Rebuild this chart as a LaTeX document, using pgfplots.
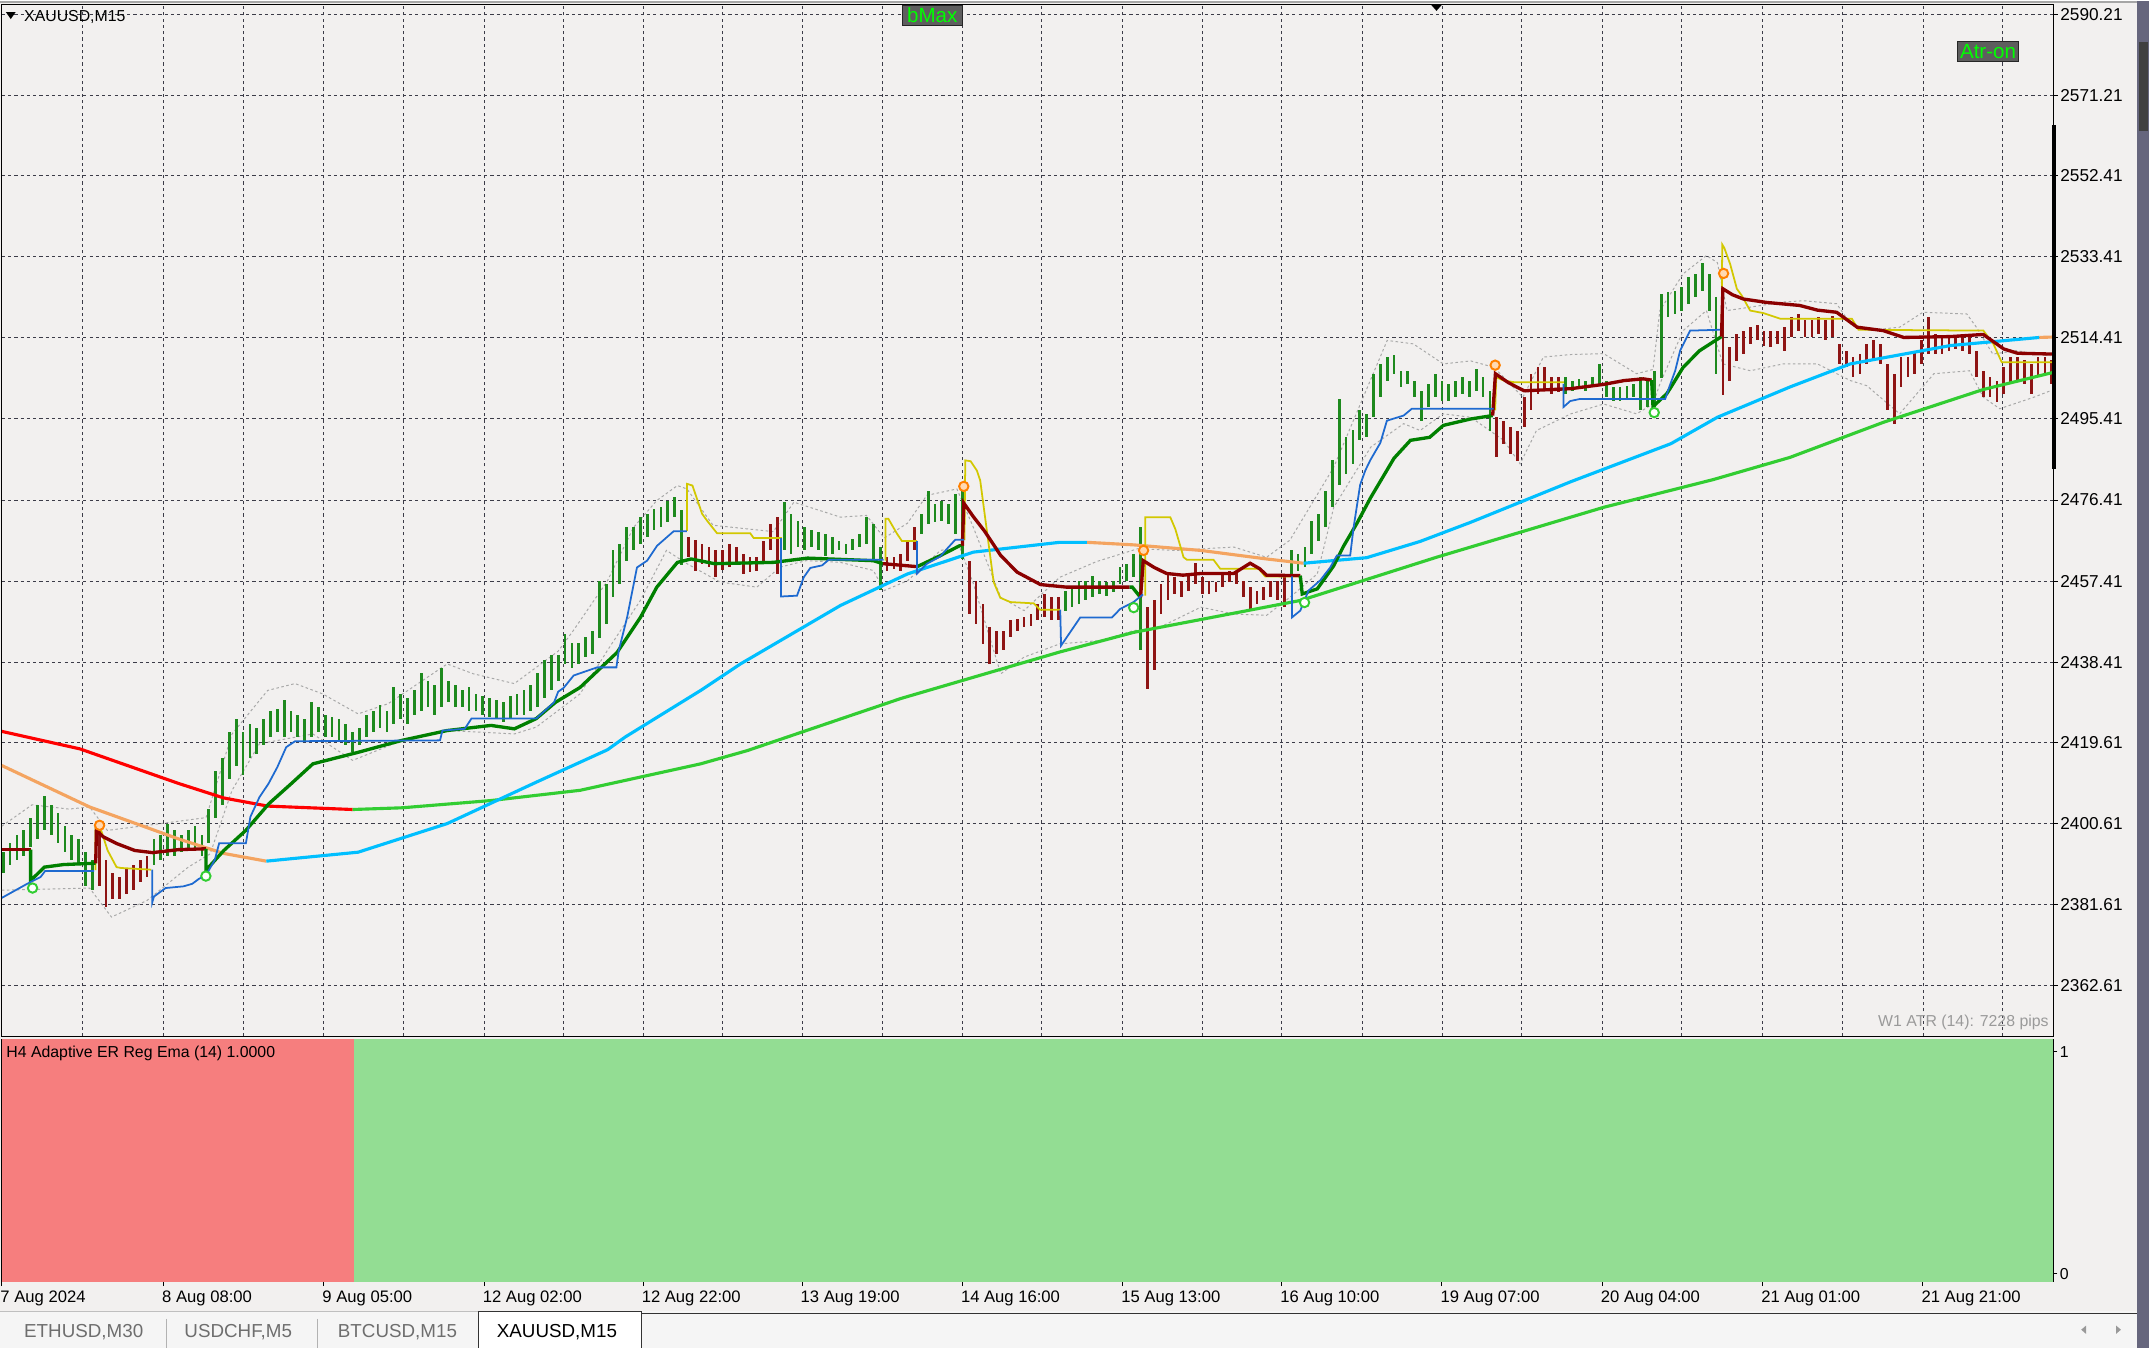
\documentclass[border=0pt]{standalone}
\usepackage{fontspec}
\setmainfont{Liberation Sans}
\usepackage{pgfplots}
\pgfplotsset{compat=1.18}
\usepackage{pgfplotstable}

\definecolor{chartbg}{HTML}{F2F0EF}
\definecolor{gridc}{HTML}{3C3C48}
\definecolor{barup}{HTML}{1E8A1E}
\definecolor{bardn}{HTML}{8E1414}
\definecolor{emaup}{HTML}{008000}
\definecolor{emadn}{HTML}{8B0000}
\definecolor{mared}{HTML}{FF0000}
\definecolor{malime}{HTML}{32CD32}
\definecolor{masand}{HTML}{F4A460}
\definecolor{masky}{HTML}{00BFFF}
\definecolor{stepyel}{HTML}{D2C800}
\definecolor{stepblue}{HTML}{1E6AD0}
\definecolor{bandgray}{HTML}{A8A8A8}
\definecolor{indred}{HTML}{F67E7E}
\definecolor{indgreen}{HTML}{93DD93}
\definecolor{boxgray}{HTML}{5E5E5E}
\definecolor{atrgray}{HTML}{9A9A9A}
\definecolor{tabgray}{HTML}{6E6E6E}
\definecolor{lime}{HTML}{00FF00}

\newcommand\mtfont{\fontsize{8.1}{9.5}\selectfont}
\newcommand\datefont{\fontsize{8.5}{10}\selectfont}
\newcommand\pricefont{\fontsize{8.8}{10}\selectfont}
\newcommand\tabfont{\fontsize{9.6}{11}\selectfont}

% price bars, M15, x = position in chart pixels, lo/hi = price
\pgfplotstableread{
x lo hi
2 2389 2394
7 2391 2396
12 2392 2398
17 2393 2399
22 2395 2402
27 2397 2405
32 2399 2407
37 2398 2405
42 2396 2403
47 2394 2400
52 2392 2398
57 2391 2397
62 2386 2394
67 2385 2392
112 2391 2397
117 2392 2398
122 2393 2400.5
127 2393 2399
132 2394 2398
137 2395 2399
142 2395 2400
147 2393 2398
152 2396 2404
157 2402 2413
162 2405 2416
167 2411 2422
172 2414 2425
177 2412 2422
182 2416 2424
187 2417 2423
192 2419 2425
197 2421 2427
202 2422 2427.5
207 2421 2429.5
212 2422 2427
217 2421 2426
222 2420 2425
227 2421 2429
232 2422 2428
237 2421 2426
242 2421 2425.5
247 2420 2425
252 2419 2424
257 2417.5 2422
262 2419 2423
267 2421 2426
272 2422 2427
277 2423 2428.5
282 2422 2427
287 2424 2432.5
292 2425 2431
297 2424 2430
302 2426 2432
307 2427 2436
312 2428 2434
317 2426 2433
322 2428 2437
327 2429 2434
332 2428 2433
337 2428 2432
342 2427 2432.5
347 2427 2431
352 2426 2430.5
357 2425.5 2430
362 2425 2429.5
367 2424.5 2429
372 2425 2430.5
377 2426 2431
382 2426 2432
387 2427 2433
392 2428 2436
397 2430 2439
402 2432 2440
407 2434 2440
412 2438 2445
417 2437 2443
422 2438 2443
427 2439.6 2444.3
432 2440.4 2445.8
437 2444 2457.5
442 2447.4 2456.8
447 2453.6 2464.6
452 2456.8 2466.1
457 2462.2 2470
462 2464.6 2470
467 2466 2472.4
472 2467.7 2473.2
477 2469.3 2474.3
482 2470 2474.7
487 2471.2 2476.3
492 2472.4 2477.1
497 2461.1 2474
572 2464.6 2475.9
577 2463.8 2473.2
582 2465.4 2471.6
587 2464.6 2470
592 2465.4 2469.3
597 2464.6 2468.9
602 2463.4 2468.5
607 2463.8 2467.7
612 2464.6 2466.9
617 2463.8 2466.1
622 2464.6 2467.3
627 2465.4 2468.5
632 2466.1 2472.4
637 2462.2 2470.8
642 2455.4 2465.4
672 2468.5 2473.2
677 2470.8 2478.6
682 2471.2 2475.5
687 2471.6 2476.3
692 2470.8 2475.5
697 2468.5 2477.9
702 2462.6 2480.2
777 2450.5 2455.2
782 2451.3 2456
787 2452.1 2457.5
792 2452.9 2457.5
797 2453.6 2458.7
802 2454.4 2457.5
807 2454 2457.2
812 2454.8 2457.5
817 2456.8 2460.7
822 2457.5 2461.5
827 2458.3 2463.8
832 2441.2 2470.2
942 2459.1 2464.6
947 2459.9 2463.8
952 2460.7 2465.4
957 2463.8 2471.6
962 2466.9 2473.2
967 2470 2478.6
972 2474.7 2485.7
977 2480 2500
982 2482.5 2491.1
987 2484.9 2492.7
992 2490.4 2497.4
997 2491.1 2496.6
1002 2495.8 2506
1007 2500.5 2508.3
1012 2504.4 2509.9
1017 2506 2510.3
1022 2502.8 2506.7
1027 2503.6 2506.7
1032 2500.5 2504.4
1037 2495 2502
1042 2498.2 2503.6
1047 2500.5 2506
1052 2499.7 2504.4
1057 2499.7 2503.6
1062 2500.5 2504.4
1067 2501.3 2505.2
1072 2500.5 2504.4
1077 2502 2507.1
1082 2500.5 2505.2
1087 2492.7 2502
1142 2501.3 2505.2
1147 2502 2504.4
1152 2502.5 2504.8
1157 2502 2504.4
1162 2502.8 2505.2
1167 2503.6 2508.3
1172 2500.5 2504.4
1177 2499.7 2502.8
1182 2499.7 2502.8
1187 2500.1 2503.2
1192 2500.5 2503.6
1197 2497.4 2505.2
1202 2498.2 2504.4
1207 2498.2 2506.7
1212 2505 2524.7
1217 2519.2 2525.1
1222 2520 2525.5
1227 2520.8 2526.3
1232 2522.4 2528.6
1237 2523.9 2529.4
1242 2525.5 2531.9
1247 2520.8 2529.4
1252 2506 2523.9
}\barsup

\pgfplotstableread{
x lo hi
72 2386 2400
77 2381 2392
82 2383 2389
87 2383 2388
92 2384 2390
97 2385 2391
102 2387 2392
107 2388 2393
502 2463 2467.7
507 2459.9 2467
512 2461.5 2466
517 2460.7 2465.4
522 2458.3 2464.6
527 2459.9 2464.6
532 2460.7 2466.1
537 2461.5 2465.4
542 2459.1 2463.8
547 2459.5 2463
552 2459.9 2463
557 2462.2 2466.9
562 2464.6 2470.8
567 2459.1 2472.4
647 2459.9 2463
652 2460.3 2463
657 2459.9 2463.8
662 2462.2 2466.9
667 2464.6 2470
707 2449.7 2462.2
712 2447.4 2457.5
717 2442.7 2452.1
722 2438 2446.6
727 2440.4 2445.8
732 2441.2 2445.8
737 2444.3 2448.2
742 2445.8 2448.6
747 2446.6 2449
752 2447 2449.7
757 2448.2 2452.1
762 2449 2454.4
767 2448.2 2453.6
772 2448.2 2453.6
837 2432.2 2451.3
842 2436.5 2452.9
847 2449.7 2456.8
852 2452.9 2459.1
857 2454.4 2458.3
862 2453.6 2457.5
867 2455.2 2459.1
872 2456.8 2461.6
877 2454.4 2458.3
882 2454.4 2457.5
887 2454.8 2457.2
892 2456 2459.1
897 2457.2 2459.9
902 2456.8 2459.9
907 2453.6 2457.5
912 2450.9 2456
917 2452.1 2455.2
922 2452.9 2456
927 2453.6 2457.5
932 2452.9 2457.5
937 2451.3 2459.1
1092 2486.4 2495.8
1097 2489.6 2495
1102 2487.2 2493.5
1107 2485.5 2492.7
1112 2493.5 2500.5
1117 2497.4 2506
1122 2501.3 2507.5
1127 2502 2507.7
1132 2501.3 2505.2
1137 2501.7 2505.2
1257 2500.9 2525.5
1262 2504.4 2512.2
1267 2509.1 2515.3
1272 2510.6 2516.1
1277 2513 2516.9
1282 2513.8 2517.3
1287 2512.6 2516.1
1292 2512.2 2516.1
1297 2513 2516.1
1302 2511.4 2516.9
1307 2514.5 2519.2
1312 2516.1 2520
1317 2514.5 2518.5
1322 2514.5 2518.5
1327 2515.3 2519.2
1332 2513.8 2518.5
1337 2514.5 2519.6
1342 2508.3 2513
1347 2507.5 2511.4
1352 2505.2 2509.9
1357 2505.9 2510.6
1362 2508.3 2513
1367 2509.1 2513.8
1372 2508.3 2513
1377 2497.4 2508.3
1382 2494.2 2506
1387 2502.8 2509.9
1392 2505.2 2509.9
1397 2506 2511.4
1402 2508.3 2513.8
1407 2510.6 2519.2
1412 2510.6 2515.3
1417 2510.6 2514.5
1422 2511.4 2514.5
1427 2511.8 2514.5
1432 2511.4 2514.5
1437 2510.6 2514.5
1442 2505.2 2511.4
1447 2500.5 2506.7
1452 2500.5 2505.2
1457 2499.3 2504.4
1462 2501.3 2507.5
1467 2503.6 2509.9
1472 2504.4 2509.9
1477 2503.6 2509.1
1482 2501.3 2508.3
1487 2505.2 2509.9
1492 2505.9 2509.9
1497 2503.6 2509.1
}\barsdn

\begin{document}
\begin{tikzpicture}
% window
\begin{scope}[x=0.7pt,y=-0.7pt]
  \fill[chartbg] (0,0) rectangle (1568,983);
\end{scope}

% ---------- main price panel ----------
\begin{axis}[
  at={(0.7pt,-529.2pt)}, anchor=south west,
  scale only axis, width=1047.9pt, height=527.1pt,
  xmin=1, xmax=1498, ymin=2350.72, ymax=2592.46,
  axis background/.style={fill=chartbg},
  axis line style={black, line width=0.6pt},
  xtick={60,119,177,236,294,353,411,469,527,585,644,702,760,819,877,935,994,1052,1110,1169,1227,1286,1344,1403,1461},
  xticklabels={}, xtick style={draw=none},
  ytick={2362.61,2381.61,2400.61,2419.61,2438.41,2457.41,2476.41,2495.41,2514.41,2533.41,2552.41,2571.21,2590.21},
  yticklabels={2362.61,2381.61,2400.61,2419.61,2438.41,2457.41,2476.41,2495.41,2514.41,2533.41,2552.41,2571.21,2590.21},
  ytick pos=right, tick align=outside, major tick length=2.4pt,
  ytick style={black, line width=0.5pt},
  yticklabel style={font=\pricefont, anchor=west, inner sep=0pt, xshift=1.1pt},
  grid=major,
  major grid style={draw=gridc, line width=0.45pt, dash pattern=on 1.6pt off 1.6pt},
]
% envelope bands
\addplot [draw=bandgray, line width=0.5pt, dash pattern=on 1.3pt off 1.3pt] coordinates {
(1,2400) (23,2405) (50,2404) (65,2404.5) (78,2399) (117,2400.6) (150,2402) (169,2421.6) (195,2431.8) (215,2433.4) (235,2431) (261,2426.3) (283,2428.7) (326,2438) (345,2435.7) (375,2433.4) (407,2441) (418,2445.8) (443,2457.5) (462,2470) (479,2476.3) (494,2479.8) (501,2479) (520,2470.5) (564,2469) (579,2475.9) (613,2472.4) (632,2472.8) (645,2467.5) (662,2471) (676,2477.5) (698,2479) (710,2470) (730,2453.6) (747,2450.5) (773,2458.3) (800,2462) (830,2465) (858,2464.6) (900,2465.4) (924,2463) (941,2467) (973,2484.1) (1012,2513.8) (1031,2513) (1053,2508.3) (1073,2509) (1090,2507.5) (1111,2500.5) (1126,2509.9) (1146,2510.5) (1170,2510.7) (1194,2506) (1206,2507) (1211,2520.8) (1228,2529.4) (1245,2533.7) (1253,2532) (1260,2520.8) (1277,2521.6) (1301,2522.8) (1316,2523.1) (1340,2522.4) (1350,2517.7) (1362,2516.1) (1386,2516.9) (1403,2520.4) (1435,2520) (1442,2516.9) (1454,2510.6) (1471,2511.4) (1496,2510.2)};
\addplot [draw=bandgray, line width=0.5pt, dash pattern=on 1.3pt off 1.3pt] coordinates {
(1,2385) (65,2385.5) (81,2378.7) (107,2382.6) (137,2390.4) (153,2393.5) (169,2408.4) (189,2419.3) (228,2421.6) (257,2415.4) (287,2419.3) (326,2422.4) (375,2421.6) (391,2423.2) (423,2431) (443,2441.2) (467,2452.9) (486,2464.6) (501,2461.5) (525,2457.2) (552,2456) (569,2460.7) (588,2462.2) (613,2461.8) (637,2459.9) (645,2455.2) (662,2457.5) (686,2464.6) (700,2465.4) (710,2456.8) (730,2435.7) (747,2439.6) (773,2442.7) (803,2443.5) (827,2445.8) (846,2446.6) (876,2451.3) (900,2449.7) (924,2449.4) (941,2453.6) (961,2459.1) (973,2474.7) (1000,2488.8) (1024,2494.3) (1036,2492.7) (1053,2496.6) (1073,2495.8) (1097,2490.4) (1109,2484.9) (1121,2492.7) (1146,2496.6) (1170,2498.9) (1194,2496.6) (1206,2498.9) (1211,2503.6) (1228,2516.1) (1245,2520.8) (1257,2508.3) (1277,2506.7) (1301,2508.3) (1326,2508.3) (1350,2504.4) (1362,2503.2) (1386,2496.6) (1411,2506) (1437,2506.7) (1447,2500.5) (1459,2497.8) (1484,2500.5) (1496,2502)};

% price bars
\addplot [draw=none, mark=none, error bars/.cd, y dir=both, y explicit, error mark=none,
  error bar style={draw=barup, line width=1.4pt}]
  table [x=x, y expr=(\thisrow{lo}+\thisrow{hi})/2, y error expr=(\thisrow{hi}-\thisrow{lo})/2] {\barsup};
\addplot [draw=none, mark=none, error bars/.cd, y dir=both, y explicit, error mark=none,
  error bar style={draw=bardn, line width=1.4pt}]
  table [x=x, y expr=(\thisrow{lo}+\thisrow{hi})/2, y error expr=(\thisrow{hi}-\thisrow{lo})/2] {\barsdn};

% slow average: red while falling, lime while rising
\addplot [mared, line width=1.6pt] coordinates {(1,2422.2) (58,2418.1) (130,2410.0) (163,2406.6) (195,2404.7) (257,2403.9)};
\addplot [malime, line width=1.6pt] coordinates {(257,2403.9) (293,2404.3) (358,2406.0) (423,2408.4) (511,2414.6) (545,2417.7) (657,2429.9) (773,2440.8) (827,2445.4) (949,2452.9) (1048,2463.0) (1170,2474.7) (1250,2481.2) (1306,2486.4) (1374,2494.6) (1447,2502.3) (1498,2506.3)};

% medium average: sandy while falling, sky blue while rising
\addplot [masand, line width=1.6pt] coordinates {(1,2414.2) (65,2404.5) (130,2397.0) (163,2393.6) (194,2391.8)};
\addplot [masky, line width=1.6pt] coordinates {(194,2391.8) (261,2393.9) (326,2400.6) (391,2410.3) (443,2417.9) (456,2420.9) (511,2431.8) (540,2438.0) (613,2451.7) (662,2459.1) (710,2464.2) (773,2466.5) (793,2466.5)};
\addplot [masand, line width=1.6pt] coordinates {(793,2466.5) (827,2465.9) (876,2464.6) (924,2462.6) (951,2461.6)};
\addplot [masky, line width=1.6pt] coordinates {(951,2461.6) (997,2462.9) (1036,2466.7) (1073,2471.2) (1146,2480.7) (1219,2489.6) (1253,2495.8) (1306,2502.9) (1350,2508.3) (1423,2512.6) (1488,2514.5)};
\addplot [masand, line width=1.6pt] coordinates {(1488,2514.5) (1498,2514.6)};

% yellow trailing line
\addplot [stepyel, line width=0.9pt] coordinates {(69.4,2389.7) (69.4,2399.8) (72,2400.5) (78.2,2394.3) (84.7,2390.4) (88,2390.2) (110,2389.8)};
\addplot [stepyel, line width=0.9pt] coordinates {(501,2469.2) (501,2480.2) (505,2479.8) (512,2473.2) (515.6,2471.6) (520.5,2469.6) (523,2468.6) (547.2,2468.6) (549.7,2467.5) (570.3,2467.5)};
\addplot [stepyel, line width=0.9pt] coordinates {(645.8,2462.2) (645.8,2472) (648,2472) (654.3,2468.5) (657.9,2466.8) (668.9,2466.8)};
\addplot [stepyel, line width=0.9pt] coordinates {(703.5,2467) (704.1,2485.7) (708,2485.5) (712.6,2483.3) (715,2481) (724.8,2457.2) (729.7,2453.5) (737,2452.5) (754,2452.2) (758.8,2450.7) (773.4,2450.7)};
\addplot [stepyel, line width=0.9pt] coordinates {(835.5,2454) (835.5,2472.4) (853.7,2472.4) (857.4,2469.6) (863.4,2463) (865.9,2462.4) (885.3,2462.4) (890.2,2460.3) (918.2,2460.3) (923,2458.5) (948.6,2458.5)};
\addplot [stepyel, line width=0.9pt] coordinates {(1090.8,2497.4) (1091.6,2505.2) (1097,2504.4) (1105,2504) (1141,2504)};
\addplot [stepyel, line width=0.9pt] coordinates {(1256.2,2516.1) (1256.5,2536.3) (1258,2535.5) (1262.3,2531.7) (1267.2,2525.9) (1270.8,2524.3) (1276.9,2520.8) (1286.6,2520.2) (1298.8,2518.9) (1351.1,2518.9) (1356,2516.3) (1447.1,2516.1) (1454.4,2513) (1460.5,2508.7) (1498,2508.7)};

% adaptive ER EMA
\addplot [emadn, line width=1.7pt] coordinates {(1,2394.5) (22,2394.5)};
\addplot [emaup, line width=1.7pt] coordinates {(22,2394.5) (22,2387.3) (26,2388.5) (32,2390.4) (46,2391) (68,2391.3) (69.5,2391.3)};
\addplot [emadn, line width=1.7pt] coordinates {(69.5,2391.3) (70,2399.0) (75,2397.5) (85,2395.9) (98,2394.3) (111,2393.8) (130,2394.5) (150,2394.7)};
\addplot [emaup, line width=1.7pt] coordinates {(150,2394.7) (150,2389.7) (163,2394.3) (179,2399.0) (196,2405.3) (212,2409.9) (228,2414.6) (261,2417.3) (293,2420.1) (326,2422.4) (358,2423.6) (375,2422.8) (391,2425.2) (405,2429) (423,2432.5) (450,2440.7) (467,2448.9) (479,2456.0) (494,2461.8) (504,2462.6) (521,2461.5) (564,2461.8) (589,2462.8) (637,2462.2) (644,2461.5)};
\addplot [emadn, line width=1.7pt] coordinates {(644,2461.5) (669,2460.8)};
\addplot [emaup, line width=1.7pt] coordinates {(669,2460.8) (686,2463.4) (700,2465.7) (702,2465.7)};
\addplot [emadn, line width=1.7pt] coordinates {(702,2465.7) (703,2475.7) (710,2472.5) (718,2469.2) (730,2463.4) (742,2459.5) (759,2456.6) (778,2456.0) (824,2456.0)};
\addplot [emaup, line width=1.7pt] coordinates {(824,2456.0) (826,2456.0) (832,2453.6)};
\addplot [emadn, line width=1.7pt] coordinates {(832,2453.6) (834,2462.2) (842,2460.6) (851,2459.2) (863,2458.8) (876,2459.2) (900,2459.2) (912,2461.6) (919,2460.3) (924,2458.8) (948.6,2458.7)};
\addplot [emaup, line width=1.7pt] coordinates {(948.6,2458.7) (950,2454.4) (961,2455.6) (973,2461) (980,2465.5) (990,2471) (1000,2477) (1017,2486.2) (1029,2490.4) (1043,2491.1) (1053,2493.9) (1073,2495.4) (1089,2496.2)};
\addplot [emadn, line width=1.7pt] coordinates {(1089,2496.2) (1091,2506.0) (1100,2504) (1107,2502.8) (1112,2502.0) (1146,2502.5) (1170,2503.5) (1185,2504.4) (1199,2504.8) (1205,2504.5)};
\addplot [emaup, line width=1.7pt] coordinates {(1205,2504.5) (1206,2498.3) (1216,2501.3) (1219,2502.8) (1228,2507.5) (1240,2511.4) (1256,2514.7)};
\addplot [emadn, line width=1.7pt] coordinates {(1256,2514.7) (1257,2525.9) (1264,2524.5) (1272,2523.5) (1289,2522.7) (1313,2522.0) (1326,2520.9) (1340,2520.4) (1355,2516.9) (1374,2516.1) (1389,2514.5) (1423,2514.7) (1447,2515.2) (1462,2511.8) (1472,2510.8) (1498,2510.6)};

% blue trailing stop
\addplot [stepblue, line width=0.9pt] coordinates {(1,2383.2) (19.5,2386.5) (29.3,2388.1) (32.6,2389.5) (68.4,2389.5)};
\addplot [stepblue, line width=0.9pt] coordinates {(110.8,2389.8) (110.8,2382.2) (112,2383.5) (120.5,2385.5) (133.6,2385.9) (140,2386.5) (145,2387.7) (150,2388.5) (156.4,2392.1) (159.6,2396) (179.1,2396) (182.4,2402.2) (189,2406.8) (195.5,2409.9) (202,2413.8) (208.5,2418.5) (215,2419.9) (320.8,2420.1) (322.5,2422.4) (338.8,2422.8) (343.7,2425.2) (390.9,2425.2) (404,2429) (407,2431.5) (411,2432.4) (418.3,2435.3) (435.4,2437.2) (449.5,2437.2) (451.2,2441.1) (457.3,2448.9) (464.5,2460.6) (471.9,2462.2) (479.2,2465.7) (491.3,2469.1) (501,2469.1)};
\addplot [stepblue, line width=0.9pt] coordinates {(569.6,2467.5) (569.6,2453.8) (581.3,2454) (586.2,2458.3) (591,2460.5) (599.6,2461.1) (604.4,2462.4) (644.5,2462.4)};
\addplot [stepblue, line width=0.9pt] coordinates {(668.9,2466.8) (668.9,2459.2) (676.2,2461.5) (685.9,2463.2) (690.8,2465.0) (696.8,2467.1) (703,2467.1)};
\addplot [stepblue, line width=0.9pt] coordinates {(773.4,2450.7) (774,2442.3) (788,2448.9) (811.2,2448.9) (817.2,2450.9) (826.9,2452.5) (833.8,2454.3)};
\addplot [stepblue, line width=0.9pt] coordinates {(942.5,2458.5) (942.5,2448.9) (948.6,2450.5) (954.6,2455.2) (963.2,2457.6) (970.4,2460.6) (975.3,2463.4) (985,2463.4) (987.5,2470) (992.3,2480) (996,2483.3) (999.6,2485.7) (1007,2489.8) (1011.8,2495) (1024,2496.2) (1030,2497.8) (1089.6,2497.8)};
\addplot [stepblue, line width=0.9pt] coordinates {(1140.7,2503.6) (1140.7,2498.2) (1145.6,2499.6) (1152.9,2500.1) (1214.9,2500.1) (1218,2503) (1222.2,2506.7) (1225.8,2511.4) (1228.3,2513) (1233.1,2516.1) (1255,2516.3)};

% signal markers
\addplot [only marks, mark=*, mark size=2.4pt, mark options={draw=orange, fill=orange!30!white, line width=1pt}]
  coordinates {(72.3,2400.2) (703,2479.6) (834.2,2464.6) (1090.8,2508.0) (1257.5,2529.5)};
\addplot [only marks, mark=*, mark size=2.4pt, mark options={draw=malime, fill=white, line width=1pt}]
  coordinates {(23.4,2385.5) (149.9,2388.3) (827,2451.2) (951.7,2452.4) (1206.9,2496.9)};
\end{axis}

% ---------- indicator panel ----------
\begin{axis}[
  at={(0.7pt,-654.5pt)}, anchor=south west,
  scale only axis, width=1047.9pt, height=123.9pt,
  xmin=1, xmax=1498, ymin=-0.037, ymax=1.0556,
  axis background/.style={fill=chartbg},
  axis line style={black, line width=0.6pt},
  xtick={1,119,236,353,469,585,702,819,935,1052,1169,1286,1403},
  xticklabels={7 Aug 2024,8 Aug 08:00,9 Aug 05:00,12 Aug 02:00,12 Aug 22:00,13 Aug 19:00,14 Aug 16:00,15 Aug 13:00,16 Aug 10:00,19 Aug 07:00,20 Aug 04:00,21 Aug 01:00,21 Aug 21:00},
  xtick pos=bottom, ytick pos=right,
  ytick={0,1}, yticklabels={0,1},
  tick align=outside, major tick length=2.2pt,
  tick style={black, line width=0.5pt},
  xticklabel style={font=\datefont, anchor=north west, inner sep=0pt, xshift=-0.9pt, yshift=-2.4pt},
  yticklabel style={font=\mtfont, anchor=west, inner sep=0pt, xshift=1.1pt},
]
\addplot [draw=none, fill=indred] coordinates {(1,-1) (1,2) (258,2) (258,-1)} -- cycle;
\addplot [draw=none, fill=indgreen] coordinates {(258,-1) (258,2) (1498,2) (1498,-1)} -- cycle;
\end{axis}

% ---------- chart furniture ----------
\begin{scope}[x=0.7pt,y=-0.7pt]
  \fill[black!35] (0,0) rectangle (1560,2);
  \fill[black] (4,8.5) -- (11,8.5) -- (7.5,13.5) -- cycle;
  \node[anchor=west, font=\mtfont, inner sep=0] at (17,12) {XAUUSD,M15};
  \fill[black] (1044,3) -- (1052,3) -- (1048,7.5) -- cycle;
  \node[fill=boxgray, draw=black!85, text=lime, inner sep=0pt,
        minimum width=30.8pt, minimum height=10pt, font=\fontsize{10.5}{11}\selectfont] at (680,11) {bMax};
  \node[fill=boxgray, draw=black!85, text=lime, inner sep=0pt,
        minimum width=30.8pt, minimum height=10pt, font=\fontsize{10.5}{11}\selectfont] at (1450.5,37) {Atr-on};
  \draw[black, line width=1.8pt] (1498.6,91) -- (1498.6,342);
  \node[anchor=east, text=atrgray, font=\mtfont, inner sep=0] at (1495,746) {W1 ATR (14): 7228 pips};
  \node[anchor=west, font=\mtfont, inner sep=0] at (4,768) {H4 Adaptive ER Reg Ema (14) 1.0000};
  % tab bar
  \fill[black!4] (0,956) rectangle (1560,983);
  \draw[black!25, line width=0.5pt] (0,957) -- (349,957);
  \draw[black!80, line width=0.6pt] (468,958) -- (1560,958);
  \fill[white] (349,957) rectangle (468,983);
  \draw[black!80, line width=0.6pt] (349,983) -- (349,957) -- (468,957) -- (468,983);
  \draw[black!30, line width=0.5pt] (121,962) -- (121,983);
  \draw[black!30, line width=0.5pt] (231,962) -- (231,983);
  \node[anchor=west, text=tabgray, font=\tabfont, inner sep=0] at (17,972) {ETHUSD,M30};
  \node[anchor=west, text=tabgray, font=\tabfont, inner sep=0] at (134,972) {USDCHF,M5};
  \node[anchor=west, text=tabgray, font=\tabfont, inner sep=0] at (246,972) {BTCUSD,M15};
  \node[anchor=west, text=black, font=\tabfont, inner sep=0] at (362,972) {XAUUSD,M15};
  \fill[black!40] (1522,967) -- (1522,973) -- (1518.5,970) -- cycle;
  \fill[black!40] (1544,967) -- (1544,973) -- (1547.5,970) -- cycle;
  % window edge
  \fill[black!85!blue!60!white] (1559,0) rectangle (1568,983);
  \fill[black!75] (1561,30) rectangle (1567,95);
\end{scope}
\end{tikzpicture}
\end{document}
